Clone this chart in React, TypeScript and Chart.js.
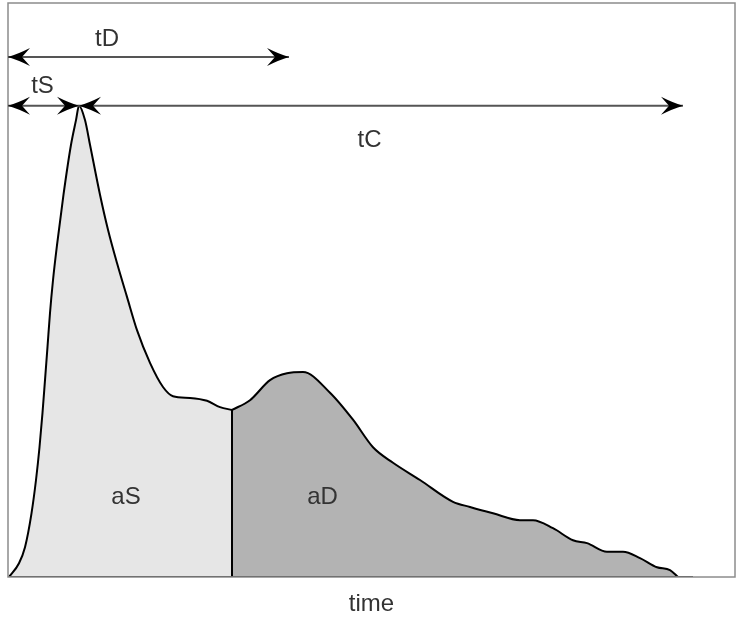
import React, { useEffect, useRef } from "react";
import { Chart, registerables } from "chart.js";

Chart.register(...registerables);

// Pulse waveform: time (arbitrary units) vs amplitude (% of full scale)
const curveTime = [1, 11, 17, 23.5, 28, 31.5, 34.5, 37, 39.5, 42, 45, 49, 55.5, 63, 68, 71, 77, 82, 92, 100, 109, 119, 129, 142, 155, 165, 182, 199, 212, 224, 242, 262, 279, 295, 322, 345, 365, 385, 412, 445, 462, 485, 512, 525, 545, 565, 579, 599, 615, 632, 649, 662, 670];
const curveAmp = [0, 2.4, 5.2, 11.1, 16.9, 22.6, 28.6, 34.3, 40.1, 46.0, 51.7, 57.8, 66.6, 75.3, 79.6, 82.1, 79.6, 75.3, 66.6, 60.5, 54.7, 48.8, 43.0, 37.3, 33.1, 31.5, 31.2, 30.7, 29.6, 29.1, 30.8, 34.3, 35.5, 35.7, 32.1, 27.4, 22.6, 19.9, 16.9, 13.1, 12.2, 11.1, 9.9, 9.9, 8.5, 6.4, 5.9, 4.4, 4.4, 3.3, 1.7, 1.2, 0];

const dipTime = 224; // dicrotic notch: split between systolic (aS) and diastolic (aD) areas
const baselineEnd = 685;

// Interval arrows
const arrowLabels = ["tD", "tS", "tC"];
const arrowStart = [0, 0, 71];
const arrowEnd = [281, 71, 675];
const arrowLevel = [90.6, 82.1, 82.1];

// Text annotations (data coordinates)
const noteText = ["tD", "tS", "tC", "aS", "aD"];
const noteX = [99, 34.5, 361.5, 118, 314.5];
const noteY = [93.6, 85.4, 76.1, 13.8, 13.8];

const axisTitle = "time";
const xMax = 727;
const yMax = 100;

function points(filter: (t: number) => boolean) {
  const out: { x: number; y: number }[] = [];
  curveTime.forEach((t, i) => {
    if (filter(t)) out.push({ x: t, y: curveAmp[i] });
  });
  return out;
}

const annotate = {
  id: "annotate",
  afterDatasetsDraw(chart: any) {
    const { ctx, scales, chartArea } = chart;
    const xs = scales.x;
    const ys = scales.y;
    ctx.save();
    // frame
    ctx.strokeStyle = "#8c8c8c";
    ctx.lineWidth = 1.5;
    ctx.strokeRect(chartArea.left, chartArea.top, chartArea.right - chartArea.left, chartArea.bottom - chartArea.top);

    const head = (x: number, y: number, dir: number) => {
      ctx.beginPath();
      ctx.moveTo(x, y);
      ctx.quadraticCurveTo(x - dir * 10, y - 3, x - dir * 22, y - 9);
      ctx.lineTo(x - dir * 14, y);
      ctx.lineTo(x - dir * 22, y + 9);
      ctx.quadraticCurveTo(x - dir * 10, y + 3, x, y);
      ctx.closePath();
      ctx.fill();
    };
    ctx.fillStyle = "#000";
    ctx.strokeStyle = "#555";
    ctx.lineWidth = 2;
    arrowLabels.forEach((_, i) => {
      const x1 = xs.getPixelForValue(arrowStart[i]);
      const x2 = xs.getPixelForValue(arrowEnd[i]);
      const y = ys.getPixelForValue(arrowLevel[i]);
      ctx.beginPath();
      ctx.moveTo(x1, y);
      ctx.lineTo(x2, y);
      ctx.stroke();
      head(x1, y, -1);
      head(x2, y, 1);
    });

    ctx.fillStyle = "#333";
    ctx.font = "24px 'Liberation Sans', Arial, sans-serif";
    ctx.textAlign = "center";
    ctx.textBaseline = "middle";
    noteText.forEach((t, i) => {
      ctx.fillText(t, xs.getPixelForValue(noteX[i]), ys.getPixelForValue(noteY[i]));
    });
    ctx.fillText(axisTitle, (chartArea.left + chartArea.right) / 2, chartArea.bottom + 27);
    ctx.restore();
  },
};

export default function App() {
  const ref = useRef<HTMLCanvasElement>(null);
  useEffect(() => {
    if (!ref.current) return;
    const chart = new Chart(ref.current, {
      type: "line",
      data: {
        datasets: [
          {
            data: [
              { x: dipTime, y: 0 },
              { x: dipTime, y: curveAmp[curveTime.indexOf(dipTime)] },
            ],
            borderColor: "#000",
            borderWidth: 2,
            pointRadius: 0,
            fill: false,
          },
          {
            data: [
              { x: 0, y: 0 },
              { x: baselineEnd, y: 0 },
            ],
            borderColor: "#222",
            borderWidth: 2,
            pointRadius: 0,
            fill: false,
          },
          {
            data: points((t) => t <= dipTime),
            borderColor: "#000",
            borderWidth: 2,
            backgroundColor: "#e6e6e6",
            fill: "origin",
            pointRadius: 0,
            cubicInterpolationMode: "monotone",
          },
          {
            data: points((t) => t >= dipTime),
            borderColor: "#000",
            borderWidth: 2,
            backgroundColor: "#b3b3b3",
            fill: "origin",
            pointRadius: 0,
            cubicInterpolationMode: "monotone",
          },
        ],
      },
      options: {
        responsive: false,
        animation: false,
        devicePixelRatio: 1,
        layout: { padding: { left: 8, top: 3, right: 4, bottom: 44 } },
        plugins: { legend: { display: false }, tooltip: { enabled: false } },
        scales: {
          x: { type: "linear", min: 0, max: xMax, display: false },
          y: { type: "linear", min: 0, max: yMax, display: false },
        },
      },
      plugins: [annotate],
    } as any);
    return () => chart.destroy();
  }, []);
  return (
    <div style={{ position: "fixed", left: 0, top: 0, width: 739, height: 621, background: "#fff" }}>
      <canvas ref={ref} width={739} height={621} />
    </div>
  );
}
